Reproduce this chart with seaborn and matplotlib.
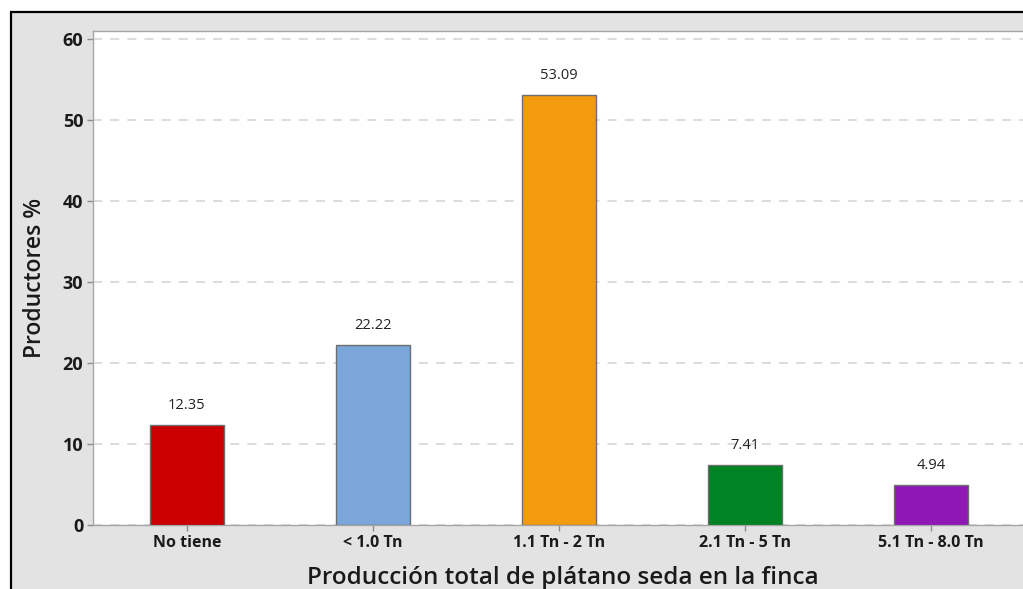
import numpy as np
import pandas as pd
import matplotlib as mpl
import matplotlib.pyplot as plt
import seaborn as sns

categorias = ['No tiene', '< 1.0 Tn', '1.1 Tn - 2 Tn', '2.1 Tn - 5 Tn', '5.1 Tn - 8.0 Tn']
productores = [12.35, 22.22, 53.09, 7.41, 4.94]
colores = ['#cc0000', '#7ba6d9', '#f39b0f', '#008322', '#8f17b5']
yticks = [0, 10, 20, 30, 40, 50, 60]

sns.set_theme(style='white')
plt.rcParams['font.family'] = ['Open Sans', 'DejaVu Sans']

df = pd.DataFrame({'cat': categorias, 'pct': productores})

fig = plt.figure(figsize=(10.23, 5.89), dpi=100)
fig.patch.set_facecolor('white')

# gray frame with black border (cropped on right and bottom)
frame = mpl.patches.Rectangle((11 / 1023, -0.1), 1.2, 1 - 12 / 589 + 0.1,
                              transform=fig.transFigure, facecolor='#e3e3e3',
                              edgecolor='black', linewidth=1.6, zorder=-10)
fig.patches.append(frame)

ax = fig.add_axes([93 / 1023, 1 - 525 / 589, 1 - 93 / 1023 + 0.01, (525 - 30.5) / 589])
ax.set_facecolor('white')

sns.barplot(data=df, x='cat', y='pct', hue='cat', palette=colores, legend=False,
            width=0.4, edgecolor='#6e6e6e', linewidth=1.0, saturation=1, ax=ax, zorder=3)

for i, v in enumerate(productores):
    ax.text(i, v + 1.45, f'{v:.2f}', ha='center', va='bottom', fontsize=10.5,
            color='#222222', zorder=4)

ax.set_ylim(0, 61.05)
ax.set_xlim(-0.505, 4.55)
ax.set_yticks(yticks)
ax.yaxis.grid(True, color='#d9d9d9', linestyle=(0, (5, 4.5)), linewidth=1.3, zorder=0)
ax.xaxis.grid(False)
ax.set_axisbelow(True)

for side in ['left', 'top', 'bottom', 'right']:
    ax.spines[side].set_color('#a6a6a6')
    ax.spines[side].set_linewidth(1.0)
ax.spines['right'].set_visible(False)

ax.tick_params(axis='both', which='both', length=4, width=1, color='#8c8c8c',
               direction='out', left=True, bottom=True, pad=3)
plt.setp(ax.get_yticklabels(), fontsize=13, fontweight='bold', color='#1a1a1a')
plt.setp(ax.get_xticklabels(), fontsize=11.5, fontweight='bold', color='#1a1a1a')

ax.set_xlabel('Producción total de plátano seda en la finca', fontsize=17.5,
              fontweight='semibold', color='#1a1a1a', labelpad=11)
ax.set_ylabel('Productores %', fontsize=16.5, fontweight='semibold',
              color='#1a1a1a', labelpad=11)

fig.savefig('out.png', dpi=100, facecolor=fig.get_facecolor())
